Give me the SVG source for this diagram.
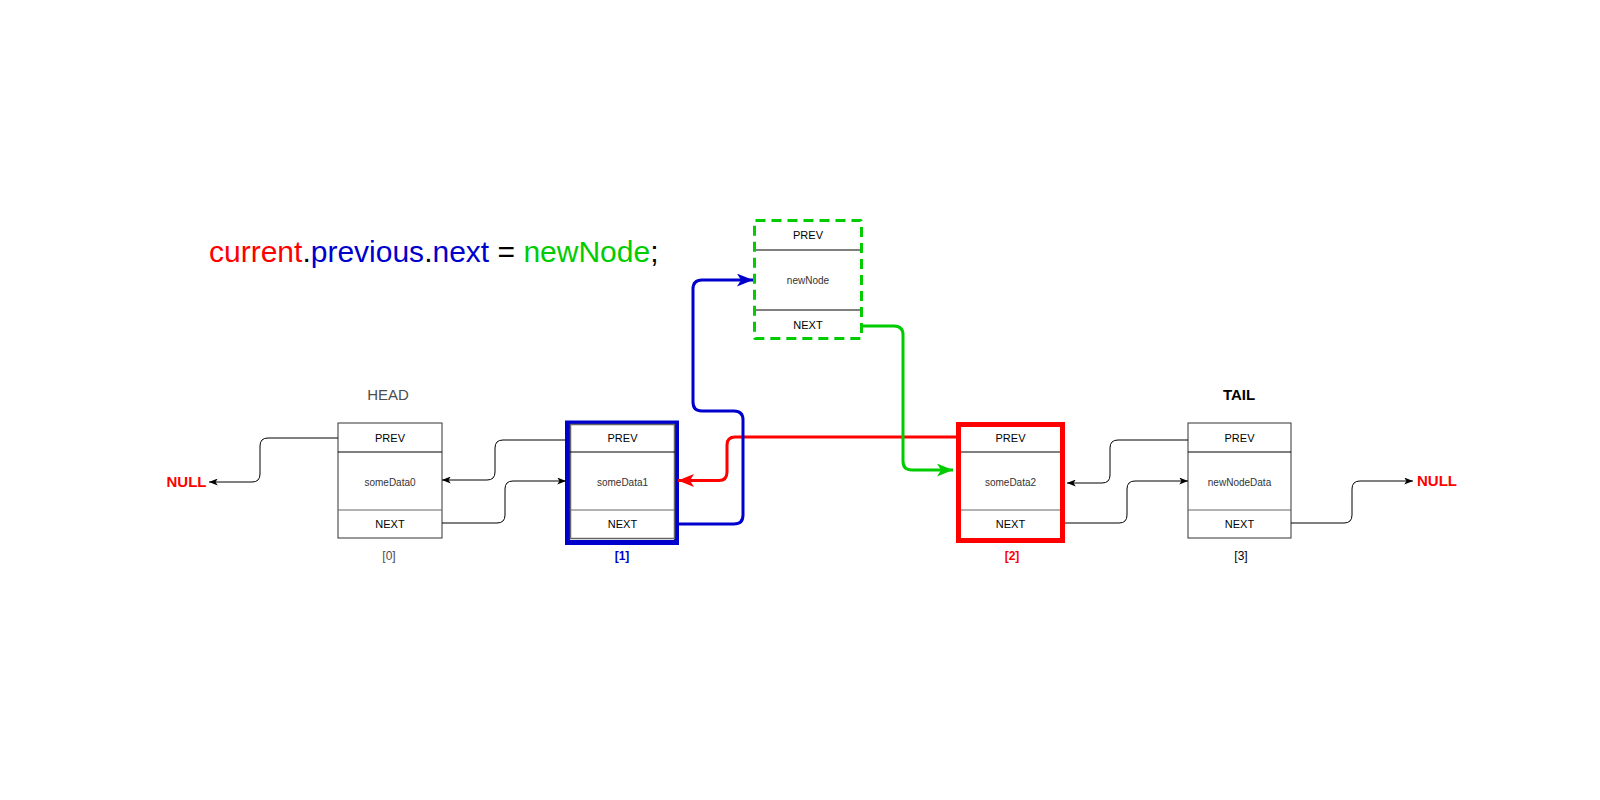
<svg xmlns="http://www.w3.org/2000/svg" width="1600" height="800" viewBox="0 0 1600 800">
<style>
text{font-family:"Liberation Sans",Arial,sans-serif}
.box{fill:#fff;stroke:#333;stroke-width:1}
.div{stroke:#000;stroke-width:1}
.div2{stroke:#666;stroke-width:1}
.lbl{font-size:11px;fill:#000;text-anchor:middle}
.dat{font-size:10px;fill:#333;text-anchor:middle}
.idx{font-size:12px;text-anchor:middle}
.null{font-size:15px;font-weight:bold;fill:#ff0000}
.c{fill:none;stroke:#000;stroke-width:1}
.cb{fill:none;stroke:#0000CC;stroke-width:3}
.cr{fill:none;stroke:#FF0000;stroke-width:3}
.cg{fill:none;stroke:#00CC00;stroke-width:3}
</style>
<defs>
<marker id="ak" viewBox="0 0 10 8" markerWidth="9" markerHeight="7" refX="10" refY="4" orient="auto" markerUnits="userSpaceOnUse"><path d="M0,0 L10,4 L0,8 L2.5,4 z" fill="#000"/></marker>
<marker id="ab" viewBox="0 0 10 8" markerWidth="16" markerHeight="13" refX="10" refY="4" orient="auto" markerUnits="userSpaceOnUse"><path d="M0,0 L10,4 L0,8 L2.5,4 z" fill="#0000CC"/></marker>
<marker id="ar" viewBox="0 0 10 8" markerWidth="16" markerHeight="13" refX="10" refY="4" orient="auto" markerUnits="userSpaceOnUse"><path d="M0,0 L10,4 L0,8 L2.5,4 z" fill="#FF0000"/></marker>
<marker id="ag" viewBox="0 0 10 8" markerWidth="16" markerHeight="13" refX="10" refY="4" orient="auto" markerUnits="userSpaceOnUse"><path d="M0,0 L10,4 L0,8 L2.5,4 z" fill="#00CC00"/></marker>
</defs>

<rect width="1600" height="800" fill="#fff"/>

<g id="equation">
<text x="209" y="262" font-size="30"><tspan fill="#FF0000">current</tspan><tspan fill="#000">.</tspan><tspan fill="#0000CC">previous</tspan><tspan fill="#000">.</tspan><tspan fill="#0000CC">next</tspan><tspan fill="#000"> = </tspan><tspan fill="#00CC00">newNode</tspan><tspan fill="#000">;</tspan></text>
</g>

<g id="null-left"><text class="null" x="186.5" y="487" text-anchor="middle">NULL</text></g>
<g id="null-right"><text class="null" x="1437" y="486" text-anchor="middle">NULL</text></g>

<g id="node0">
<text x="388" y="400" font-size="15" fill="#4d4d4d" text-anchor="middle">HEAD</text>
<rect class="box" x="338" y="423" width="104" height="115"/>
<line class="div" x1="338" y1="452" x2="442" y2="452"/>
<line class="div2" x1="338" y1="510" x2="442" y2="510"/>
<text class="lbl" x="390" y="442">PREV</text>
<text class="dat" x="390" y="486">someData0</text>
<text class="lbl" x="390" y="528">NEXT</text>
<text class="idx" x="389" y="560" fill="#4d4d4d">[0]</text>
</g>

<g id="node1">
<rect x="567.5" y="423" width="109" height="119.5" fill="#fff" stroke="#0000CC" stroke-width="5"/>
<rect x="570.5" y="424.5" width="104" height="114" fill="#fff" stroke="#666" stroke-width="1.5"/>
<line class="div" x1="570" y1="452" x2="675" y2="452"/>
<line class="div2" x1="570" y1="510" x2="675" y2="510"/>
<text class="lbl" x="622.5" y="442">PREV</text>
<text class="dat" x="622.5" y="486">someData1</text>
<text class="lbl" x="622.5" y="528">NEXT</text>
<text class="idx" x="622" y="560" fill="#0000CC" font-weight="bold">[1]</text>
</g>

<g id="newNode">
<rect x="754.5" y="220.5" width="107" height="118" rx="1" fill="#fff" stroke="#00CC00" stroke-width="3" stroke-dasharray="10 6"/>
<line class="div" x1="756" y1="250" x2="860" y2="250"/>
<line class="div" x1="756" y1="310" x2="860" y2="310"/>
<text class="lbl" x="808" y="239">PREV</text>
<text class="dat" x="808" y="283.5">newNode</text>
<text class="lbl" x="808" y="329">NEXT</text>
</g>

<g id="node2">
<rect x="958.5" y="424.5" width="104" height="116" fill="#fff" stroke="#FF0000" stroke-width="5"/>
<line class="div" x1="961" y1="452" x2="1060" y2="452"/>
<line class="div2" x1="961" y1="510" x2="1060" y2="510"/>
<text class="lbl" x="1010.5" y="442">PREV</text>
<text class="dat" x="1010.5" y="486">someData2</text>
<text class="lbl" x="1010.5" y="528">NEXT</text>
<text class="idx" x="1012" y="560" fill="#FF0000" font-weight="bold">[2]</text>
</g>

<g id="node3">
<text x="1239" y="399.5" font-size="15" font-weight="bold" fill="#000" text-anchor="middle">TAIL</text>
<rect class="box" x="1188" y="423" width="103" height="115" stroke="#000"/>
<line class="div" x1="1188" y1="452" x2="1291" y2="452"/>
<line class="div2" x1="1188" y1="510" x2="1291" y2="510"/>
<text class="lbl" x="1239.5" y="442">PREV</text>
<text class="dat" x="1239.5" y="486">newNodeData</text>
<text class="lbl" x="1239.5" y="528">NEXT</text>
<text class="idx" x="1241" y="560" fill="#000">[3]</text>
</g>

<g id="connectors">
<path class="c" d="M338,438 H268 Q260,438 260,446 V474 Q260,482 252,482 H209" marker-end="url(#ak)"/>
<path class="c" d="M565,440 H503 Q495,440 495,448 V472 Q495,480 487,480 H442" marker-end="url(#ak)"/>
<path class="c" stroke="#444" d="M442,523 H497 Q505,523 505,515 V489 Q505,481 513,481 H566" marker-end="url(#ak)"/>
<path class="c" d="M1188,440 H1118 Q1110,440 1110,448 V475 Q1110,483 1102,483 H1067" marker-end="url(#ak)"/>
<path class="c" stroke="#444" d="M1065,523 H1119 Q1127,523 1127,515 V489 Q1127,481 1135,481 H1188" marker-end="url(#ak)"/>
<path class="c" d="M1291,523 H1344 Q1352,523 1352,515 V489 Q1352,481 1360,481 H1413" marker-end="url(#ak)"/>
<path class="cr" d="M956,437 H735 Q727,437 727,445 V472 Q727,480.5 719,480.5 H678" marker-end="url(#ar)"/>
<path class="cb" d="M679,524 H734 Q743,524 743,515 V420 Q743,411 734,411 H702 Q693,411 693,402 V289 Q693,280 702,280 H753" marker-end="url(#ab)"/>
<path class="cg" d="M863,326 H894 Q903,326 903,335 V461 Q903,470 912,470 H953" marker-end="url(#ag)"/>
</g>
</svg>
